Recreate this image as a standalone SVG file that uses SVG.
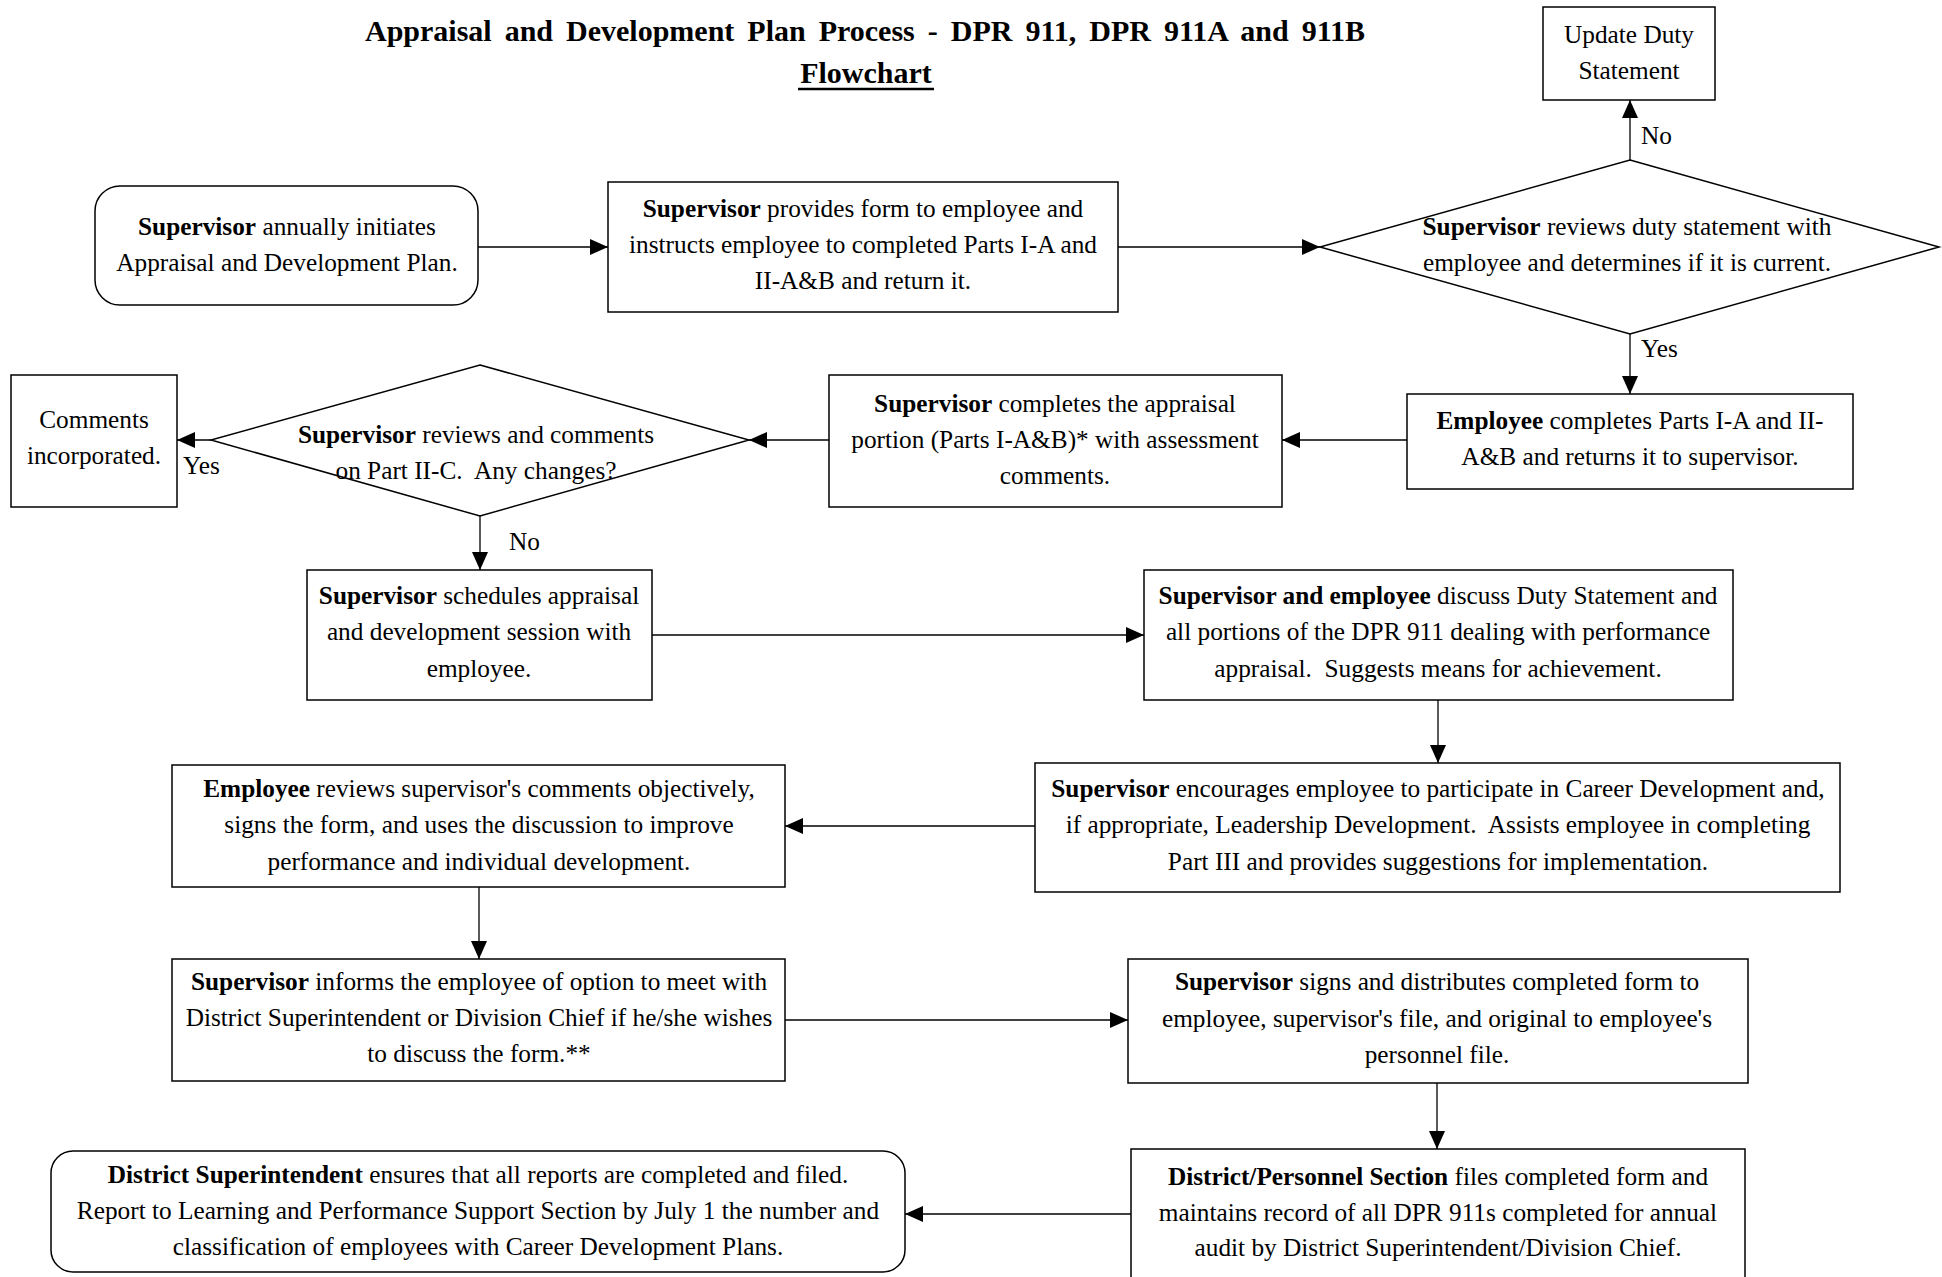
<svg xmlns="http://www.w3.org/2000/svg" width="1942" height="1277" viewBox="0 0 1942 1277">
<defs>
<style>
text{font-family:"Liberation Serif","Times New Roman",serif;font-size:25.3px;fill:#000;white-space:pre}
.c{text-anchor:middle}
.b{font-weight:bold}
.title{font-weight:bold;font-size:30px;text-anchor:middle;word-spacing:5.5px}
.box{fill:#fff;stroke:#000;stroke-width:1.5}
.conn line{stroke:#000;stroke-width:1.3;marker-end:url(#ah)}
</style>
<marker id="ah" markerUnits="userSpaceOnUse" markerWidth="18" markerHeight="16" refX="18" refY="8" orient="auto">
<path d="M0,0 L18,8 L0,16 z" fill="#000"/>
</marker>
</defs>
<rect width="1942" height="1277" fill="#fff"/>
<g id="title">
<text class="title" x="865" y="41">Appraisal and Development Plan Process - DPR 911, DPR 911A and 911B</text>
<text class="title" x="866" y="83">Flowchart</text>
<line x1="798" y1="89" x2="934" y2="89" stroke="#000" stroke-width="2.5"/>
</g>
<g class="conn" id="connectors">
<line x1="478" y1="247" x2="608" y2="247"/>
<line x1="1118" y1="247" x2="1320" y2="247"/>
<line x1="1630" y1="160" x2="1630" y2="100"/>
<line x1="1630" y1="334" x2="1630" y2="394"/>
<line x1="1407" y1="440" x2="1282" y2="440"/>
<line x1="829" y1="440" x2="749" y2="440"/>
<line x1="211" y1="440" x2="177" y2="440"/>
<line x1="480" y1="516" x2="480" y2="570"/>
<line x1="652" y1="635" x2="1144" y2="635"/>
<line x1="1438" y1="700" x2="1438" y2="763"/>
<line x1="1035" y1="826" x2="785" y2="826"/>
<line x1="479" y1="887" x2="479" y2="959"/>
<line x1="785" y1="1020" x2="1128" y2="1020"/>
<line x1="1437" y1="1083" x2="1437" y2="1149"/>
<line x1="1131" y1="1214" x2="905" y2="1214"/>
</g>
<g id="labels">
<text x="1641" y="144">No</text>
<text x="1641" y="357">Yes</text>
<text x="183" y="474">Yes</text>
<text x="509" y="550">No</text>
</g>
<g id="n1">
<rect class="box" x="95" y="186" width="383" height="119" rx="25"/>
<text class="c" x="287" y="235"><tspan class="b">Supervisor</tspan> annually initiates</text>
<text class="c" x="287" y="271">Appraisal and Development Plan.</text>
</g>
<g id="n2">
<rect class="box" x="608" y="182" width="510" height="130"/>
<text class="c" x="863" y="217"><tspan class="b">Supervisor</tspan> provides form to employee and</text>
<text class="c" x="863" y="253">instructs employee to completed Parts I-A and</text>
<text class="c" x="863" y="289">II-A&amp;B and return it.</text>
</g>
<g id="d1">
<polygon class="box" points="1630,160 1939,247 1630,334 1320,247"/>
<text class="c" x="1627" y="235"><tspan class="b">Supervisor</tspan> reviews duty statement with</text>
<text class="c" x="1627" y="271">employee and determines if it is current.</text>
</g>
<g id="upd">
<rect class="box" x="1543" y="7" width="172" height="93"/>
<text class="c" x="1629" y="43">Update Duty</text>
<text class="c" x="1629" y="79">Statement</text>
</g>
<g id="emp">
<rect class="box" x="1407" y="394" width="446" height="95"/>
<text class="c" x="1630" y="429"><tspan class="b">Employee</tspan> completes Parts I-A and II-</text>
<text class="c" x="1630" y="465">A&amp;B and returns it to supervisor.</text>
</g>
<g id="comp">
<rect class="box" x="829" y="375" width="453" height="132"/>
<text class="c" x="1055" y="412"><tspan class="b">Supervisor</tspan> completes the appraisal</text>
<text class="c" x="1055" y="448">portion (Parts I-A&amp;B)* with assessment</text>
<text class="c" x="1055" y="484">comments.</text>
</g>
<g id="d2">
<polygon class="box" points="480,365 749,440 480,516 211,440"/>
<text class="c" x="476" y="443"><tspan class="b">Supervisor</tspan> reviews and comments</text>
<text class="c" x="476" y="479">on Part II-C.  Any changes?</text>
</g>
<g id="cmt">
<rect class="box" x="11" y="375" width="166" height="132"/>
<text class="c" x="94" y="428">Comments</text>
<text class="c" x="94" y="464">incorporated.</text>
</g>
<g id="sched">
<rect class="box" x="307" y="570" width="345" height="130"/>
<text class="c" x="479" y="604"><tspan class="b">Supervisor</tspan> schedules appraisal</text>
<text class="c" x="479" y="640">and development session with</text>
<text class="c" x="479" y="677">employee.</text>
</g>
<g id="disc">
<rect class="box" x="1144" y="570" width="589" height="130"/>
<text class="c" x="1438" y="604"><tspan class="b">Supervisor and employee</tspan> discuss Duty Statement and</text>
<text class="c" x="1438" y="640">all portions of the DPR 911 dealing with performance</text>
<text class="c" x="1438" y="677">appraisal.  Suggests means for achievement.</text>
</g>
<g id="enc">
<rect class="box" x="1035" y="763" width="805" height="129"/>
<text class="c" x="1438" y="797"><tspan class="b">Supervisor</tspan> encourages employee to participate in Career Development and,</text>
<text class="c" x="1438" y="833">if appropriate, Leadership Development.  Assists employee in completing</text>
<text class="c" x="1438" y="870">Part III and provides suggestions for implementation.</text>
</g>
<g id="rev">
<rect class="box" x="172" y="765" width="613" height="122"/>
<text class="c" x="479" y="797"><tspan class="b">Employee</tspan> reviews supervisor's comments objectively,</text>
<text class="c" x="479" y="833">signs the form, and uses the discussion to improve</text>
<text class="c" x="479" y="870">performance and individual development.</text>
</g>
<g id="inf">
<rect class="box" x="172" y="959" width="613" height="122"/>
<text class="c" x="479" y="990"><tspan class="b">Supervisor</tspan> informs the employee of option to meet with</text>
<text class="c" x="479" y="1026">District Superintendent or Division Chief if he/she wishes</text>
<text class="c" x="479" y="1062">to discuss the form.**</text>
</g>
<g id="sig">
<rect class="box" x="1128" y="959" width="620" height="124"/>
<text class="c" x="1437" y="990"><tspan class="b">Supervisor</tspan> signs and distributes completed form to</text>
<text class="c" x="1437" y="1027">employee, supervisor's file, and original to employee's</text>
<text class="c" x="1437" y="1063">personnel file.</text>
</g>
<g id="dp">
<rect class="box" x="1131" y="1149" width="614" height="132"/>
<text class="c" x="1438" y="1185"><tspan class="b">District/Personnel Section</tspan> files completed form and</text>
<text class="c" x="1438" y="1221">maintains record of all DPR 911s completed for annual</text>
<text class="c" x="1438" y="1256">audit by District Superintendent/Division Chief.</text>
</g>
<g id="ds">
<rect class="box" x="51" y="1151" width="854" height="121" rx="22"/>
<text class="c" x="478" y="1183"><tspan class="b">District Superintendent</tspan> ensures that all reports are completed and filed.</text>
<text class="c" x="478" y="1219">Report to Learning and Performance Support Section by July 1 the number and</text>
<text class="c" x="478" y="1255">classification of employees with Career Development Plans.</text>
</g>
</svg>
